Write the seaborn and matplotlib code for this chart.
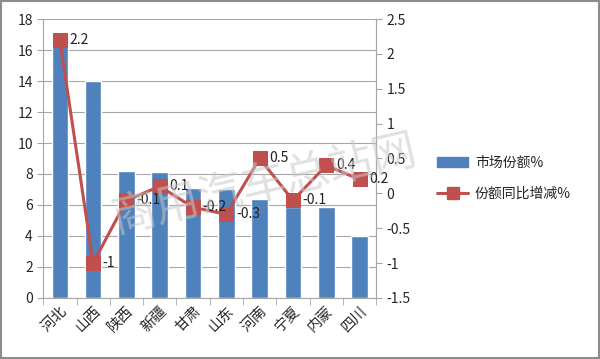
import matplotlib
matplotlib.use("Agg")
import matplotlib.pyplot as plt
import numpy as np
import pandas as pd
import seaborn as sns
from matplotlib.patches import Rectangle
from matplotlib.lines import Line2D
from matplotlib.patches import Patch

provinces = ['河北', '山西', '陕西', '新疆', '甘肃', '山东', '河南', '宁夏', '内蒙', '四川']
share = [16.5, 14.0, 8.2, 8.1, 7.1, 7.0, 6.4, 5.9, 5.9, 4.0]
change = [2.2, -1, -0.1, 0.1, -0.2, -0.3, 0.5, -0.1, 0.4, 0.2]
left_ticks = [0, 2, 4, 6, 8, 10, 12, 14, 16, 18]
right_ticks = [-1.5, -1, -0.5, 0, 0.5, 1, 1.5, 2, 2.5]

sns.set_style("white")
plt.rcParams['font.family'] = ['Noto Sans CJK SC', 'DejaVu Sans']

blue = '#4F81BD'
red = '#C0504D'
grid_c = '#A6A6A6'

df = pd.DataFrame({'province': provinces, 'share': share, 'change': change})

fig = plt.figure(figsize=(6, 3.59), dpi=100)
ax = fig.add_axes([0.072, 0.17, 0.555, 0.777])

sns.barplot(data=df, x='province', y='share', color=blue, width=0.5,
            saturation=1, ax=ax, zorder=2)
ax.set_ylim(0, 18)
ax.set_yticks(left_ticks)
ax.set_xlim(-0.5, len(provinces) - 0.5)
ax.yaxis.grid(True, color=grid_c, lw=0.8, zorder=0)
ax.set_axisbelow(True)
ax.set_xlabel('')
ax.set_ylabel('')
ax.tick_params(axis='y', labelsize=10, length=4, color=grid_c, direction='out', left=True)
ax.set_xticks(range(len(provinces)))
ax.set_xticklabels(provinces, rotation=45, ha='right', rotation_mode='anchor', fontsize=10.5)
ax.tick_params(axis='x', which='major', length=0, pad=4)
ax.set_xticks(np.arange(-0.5, len(provinces), 1), minor=True)
ax.tick_params(axis='x', which='minor', length=5, color=grid_c, bottom=True)
ax.spines['top'].set_visible(False)
for s in ['left', 'bottom', 'right']:
    ax.spines[s].set_color(grid_c)

ax2 = ax.twinx()
sns.lineplot(data=df, x='province', y='change', color=red, lw=2.2, marker='s',
             markersize=10, markeredgecolor=red, sort=False, ax=ax2, zorder=3)
ax2.set_ylim(-1.5, 2.5)
ax2.set_yticks(right_ticks)
ax2.set_yticklabels(['-1.5', '-1', '-0.5', '0', '0.5', '1', '1.5', '2', '2.5'])
ax2.set_ylabel('')
ax2.set_xlabel('')
ax2.tick_params(axis='y', labelsize=10, length=4, color=grid_c, direction='out', right=True)
for s in ['top', 'left', 'bottom']:
    ax2.spines[s].set_visible(False)
ax2.spines['right'].set_color(grid_c)

for i, v in enumerate(change):
    ax2.annotate('{:g}'.format(v), (i, v), xytext=(7, 0), textcoords='offset points',
                 ha='left', va='center', fontsize=10, color='#222222')

handles = [Patch(facecolor=blue, edgecolor=blue),
           Line2D([0], [0], color=red, lw=2.2, marker='s', markersize=8)]
fig.legend(handles, ['市场份额%', '份额同比增减%'], loc='upper left',
           bbox_to_anchor=(0.708, 0.6), frameon=False, fontsize=10,
           handlelength=2.2, handletextpad=0.5, labelspacing=1.2)

# watermark
fig.text(0.44, 0.485, '商用汽车总站网', fontsize=32, color='#C8C8C8', alpha=0.55,
         rotation=13, ha='center', va='center', zorder=10)

fig.add_artist(Rectangle((0.002, 0.003), 0.996, 0.994, transform=fig.transFigure,
                         fill=False, edgecolor='#8C8C8C', lw=1.5))

fig.savefig('out.png', dpi=100)
